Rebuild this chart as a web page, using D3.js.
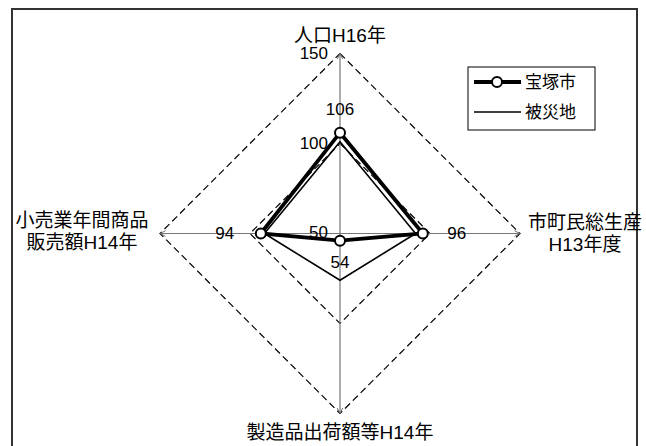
<!DOCTYPE html>
<html>
<head>
<meta charset="utf-8">
<script src="https://cdn.jsdelivr.net/npm/d3@7"></script>
<style>
  body { margin: 0; background: #fff; }
  svg text { font-family: "Liberation Sans", Arial, "Noto Sans CJK JP", sans-serif; fill: #000; }
</style>
</head>
<body>
<div id="chart"></div>
<script>
/* --- data ---------------------------------------------------------------- */
const axes = [
  ["人口H16年"],
  ["市町民総生産", "H13年度"],
  ["製造品出荷額等H14年"],
  ["小売業年間商品", "販売額H14年"]
];
const ringTicks = [50, 100, 150];
const takarazuka = [106, 96, 54, 94];   // 宝塚市
const hisaichi = [101, 92, 76, 92];     // 被災地
const seriesNames = ["宝塚市", "被災地"];

/* --- layout -------------------------------------------------------------- */
const width = 646, height = 446;
const cx = 340, cy = 233.5, R = 180;

const svg = d3.select("#chart").append("svg")
  .attr("width", width)
  .attr("height", height);

// outer frame (bottom edge sits below the window)
svg.append("rect")
  .attr("x", 12).attr("y", 9)
  .attr("width", 625).attr("height", 460)
  .attr("fill", "none").attr("stroke", "#333").attr("stroke-width", 2);

const r = d3.scaleLinear().domain([50, 150]).range([0, R]);
const ang = d3.scalePoint().domain(d3.range(axes.length)).range([0, 2 * Math.PI * 3 / 4]);
const pt = (i, v) => {
  const a = ang(i);
  return [cx + r(v) * Math.sin(a), cy - r(v) * Math.cos(a)];
};

/* --- arrow marker -------------------------------------------------------- */
svg.append("defs").append("marker")
  .attr("id", "arr")
  .attr("viewBox", "0 0 10 10")
  .attr("refX", 9).attr("refY", 5)
  .attr("markerWidth", 7).attr("markerHeight", 7)
  .attr("markerUnits", "userSpaceOnUse")
  .attr("orient", "auto")
  .append("path")
    .attr("d", "M1,1L9,5L1,9")
    .attr("fill", "none").attr("stroke", "#666").attr("stroke-width", 1.3);

/* --- dashed rings -------------------------------------------------------- */
const line = d3.line();
ringTicks.filter(t => t > 50).forEach(t => {
  svg.append("path")
    .attr("d", line(axes.map((_, i) => pt(i, t))) + "Z")
    .attr("fill", "none").attr("stroke", "#000")
    .attr("stroke-width", 1.2).attr("stroke-dasharray", "7,4");
});

/* --- axes ---------------------------------------------------------------- */
axes.forEach((_, i) => {
  const [x2, y2] = pt(i, 150);
  svg.append("line")
    .attr("x1", cx).attr("y1", cy).attr("x2", x2).attr("y2", y2)
    .attr("stroke", "#777").attr("stroke-width", 1.2)
    .attr("marker-end", "url(#arr)");
});

// tick labels on the top axis
ringTicks.forEach(t => {
  const [, y] = pt(0, t);
  svg.append("text")
    .attr("x", cx - 12).attr("y", t === 50 ? y - 1 : y)
    .attr("text-anchor", "end").attr("dominant-baseline", "central")
    .style("font-size", "17px").text(t);
});

/* --- axis titles --------------------------------------------------------- */
const titlePos = [[340, 35], [585, 222], [340, 432], [82, 220]];
axes.forEach((lines, i) => {
  lines.forEach((s, j) => {
    svg.append("text")
      .attr("x", titlePos[i][0]).attr("y", titlePos[i][1] + j * 22)
      .attr("text-anchor", "middle").attr("dominant-baseline", "central")
      .style("font-size", "19px").text(s);
  });
});

/* --- series -------------------------------------------------------------- */
svg.append("path")
  .attr("d", line(hisaichi.map((v, i) => pt(i, v))) + "Z")
  .attr("fill", "none").attr("stroke", "#000").attr("stroke-width", 1.6)
  .attr("stroke-linejoin", "miter");

svg.append("path")
  .attr("d", line(takarazuka.map((v, i) => pt(i, v))) + "Z")
  .attr("fill", "none").attr("stroke", "#000").attr("stroke-width", 3.8)
  .attr("stroke-linejoin", "miter");

svg.selectAll("circle.m")
  .data(takarazuka)
  .join("circle")
    .attr("class", "m")
    .attr("cx", (v, i) => pt(i, v)[0])
    .attr("cy", (v, i) => pt(i, v)[1])
    .attr("r", 5)
    .attr("fill", "#fff").attr("stroke", "#000").attr("stroke-width", 2);

// data labels for 宝塚市
const labOff = [[0, -23], [34, 0], [0, 22], [-36, 0]];
takarazuka.forEach((v, i) => {
  const [x, y] = pt(i, v);
  svg.append("text")
    .attr("x", x + labOff[i][0]).attr("y", y + labOff[i][1])
    .attr("text-anchor", "middle").attr("dominant-baseline", "central")
    .style("font-size", "17px").text(v);
});

/* --- legend -------------------------------------------------------------- */
const lg = svg.append("g").attr("transform", "translate(468,67)");
lg.append("rect").attr("width", 127).attr("height", 63)
  .attr("fill", "#fff").attr("stroke", "#000").attr("stroke-width", 1);
seriesNames.forEach((s, i) => {
  const y = 15 + i * 30;
  lg.append("line").attr("x1", 6).attr("x2", 53).attr("y1", y).attr("y2", y)
    .attr("stroke", "#000").attr("stroke-width", i === 0 ? 3.8 : 1.6);
  if (i === 0) {
    lg.append("circle").attr("cx", 29).attr("cy", y).attr("r", 5)
      .attr("fill", "#fff").attr("stroke", "#000").attr("stroke-width", 2);
  }
  lg.append("text").attr("x", 57).attr("y", y)
    .attr("dominant-baseline", "central")
    .style("font-size", "17px").text(s);
});
</script>
</body>
</html>
